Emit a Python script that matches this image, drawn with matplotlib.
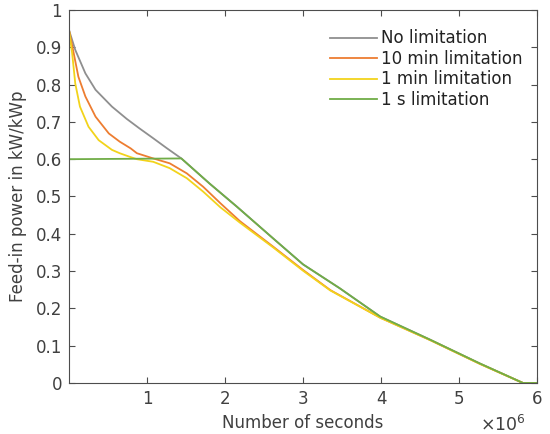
import matplotlib
matplotlib.use("Agg")
import matplotlib.pyplot as plt

# x values in units of 1e6 seconds
x_none = [0, 0.08, 0.21, 0.34, 0.55, 0.74, 0.90, 1.08, 1.25, 1.44, 1.8, 2.15, 2.62, 3.0, 3.47, 3.99, 4.63, 5.27, 5.82, 6.0]
y_none = [0.946, 0.893, 0.830, 0.786, 0.741, 0.708, 0.683, 0.656, 0.630, 0.602, 0.535, 0.473, 0.387, 0.318, 0.254, 0.178, 0.116, 0.052, 0.0, 0.0]

x_10min = [0, 0.06, 0.12, 0.21, 0.34, 0.51, 0.65, 0.79, 0.87, 1.08, 1.29, 1.51, 1.72, 1.94, 2.19, 2.62, 3.0, 3.35, 3.99, 4.63, 5.27, 5.82, 6.0]
y_10min = [0.946, 0.884, 0.821, 0.768, 0.714, 0.669, 0.647, 0.629, 0.616, 0.602, 0.589, 0.562, 0.526, 0.482, 0.434, 0.365, 0.303, 0.249, 0.175, 0.115, 0.051, 0.0, 0.0]

x_1min = [0, 0.04, 0.08, 0.14, 0.25, 0.38, 0.55, 0.65, 0.77, 0.87, 1.08, 1.29, 1.51, 1.72, 1.94, 2.19, 2.62, 3.0, 3.35, 3.99, 4.63, 5.27, 5.82, 6.0]
y_1min = [0.946, 0.884, 0.803, 0.741, 0.687, 0.651, 0.625, 0.616, 0.607, 0.600, 0.593, 0.576, 0.549, 0.513, 0.471, 0.430, 0.363, 0.301, 0.248, 0.175, 0.115, 0.051, 0.0, 0.0]

x_1s = [0, 1.44, 1.8, 2.15, 2.62, 3.0, 3.47, 3.99, 4.63, 5.27, 5.82, 6.0]
y_1s = [0.6, 0.602, 0.535, 0.473, 0.387, 0.318, 0.254, 0.178, 0.116, 0.052, 0.0, 0.0]

labels = ["No limitation", "10 min limitation", "1 min limitation", "1 s limitation"]
colors = ["#8f8f8f", "#ED7D31", "#F2D31B", "#70AD47"]

xticks = [1, 2, 3, 4, 5, 6]
yticks = [0, 0.1, 0.2, 0.3, 0.4, 0.5, 0.6, 0.7, 0.8, 0.9, 1.0]
ytick_labels = ["0", "0.1", "0.2", "0.3", "0.4", "0.5", "0.6", "0.7", "0.8", "0.9", "1"]

plt.rcParams['font.family'] = ['DejaVu Sans']
txt = "#404040"

fig = plt.figure(figsize=(5.5, 4.34), dpi=100)
ax = fig.add_axes([0.1255, 0.1175, 0.851, 0.8595])

series = [(x_none, y_none), (x_10min, y_10min), (x_1min, y_1min), (x_1s, y_1s)]
for (xs, ys), lab, c in zip(series, labels, colors):
    ax.plot([v * 1e6 for v in xs], ys, color=c, lw=1.3, label=lab)

ax.set_xlim(0, 6e6)
ax.set_ylim(0, 1)
ax.set_xticks([v * 1e6 for v in xticks])
ax.set_xticklabels([str(v) for v in xticks])
ax.set_yticks(yticks)
ax.set_yticklabels(ytick_labels)
ax.tick_params(direction='in', top=True, right=True, labelsize=12, colors="#4d4d4d",
               labelcolor=txt, length=4, width=0.8, pad=5)
for s in ax.spines.values():
    s.set_color("#4d4d4d")
    s.set_linewidth(0.8)

ax.set_xlabel("Number of seconds", fontsize=12, color=txt, labelpad=4)
ax.set_ylabel("Feed-in power in kW/kWp", fontsize=12, color=txt, labelpad=6)
ax.text(0.976, -0.113, r"$\times10^{6}$", transform=ax.transAxes, ha='right', va='center',
        fontsize=12.5, color=txt)

leg = ax.legend(loc='upper left', frameon=False, fontsize=12, handlelength=2.8,
                handletextpad=0.25, labelspacing=0.15, borderaxespad=0, borderpad=0,
                bbox_to_anchor=(0.558, 0.948))
for t in leg.get_texts():
    t.set_color("#222222")

fig.savefig("out.png", dpi=100)
